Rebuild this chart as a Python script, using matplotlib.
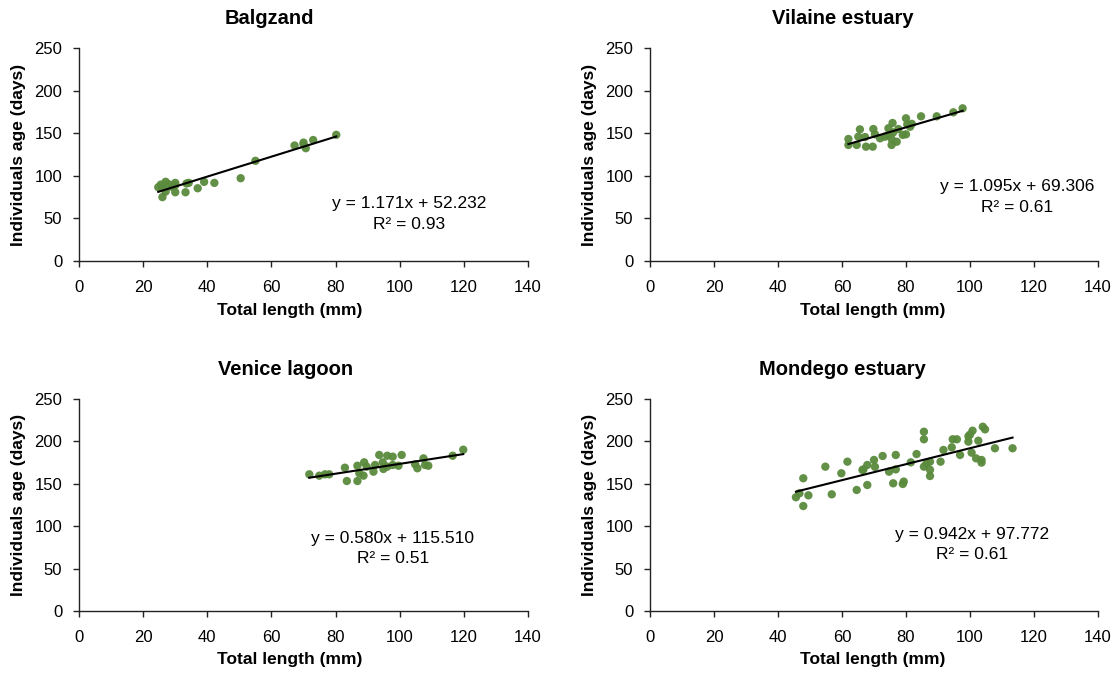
import numpy as np
import matplotlib.pyplot as plt

plt.rcParams['font.family'] = ['Liberation Sans', 'DejaVu Sans']

# Balgzand: total length (mm) vs age (days)
balg_len = [80.2, 73.0, 70.0, 70.7, 67.2, 70.0, 55.0, 50.4, 42.2, 39.0, 37.0, 33.2,
            33.5, 34.2, 30.0, 30.0, 30.0, 27.0, 26.0, 26.0, 24.7, 25.5, 29.0, 27.0, 28.0]
balg_age = [148.1, 142.0, 139.0, 132.4, 135.6, 137.0, 117.6, 97.2, 91.7, 92.9, 85.4, 80.7,
            91.0, 91.7, 80.7, 91.7, 89.0, 93.0, 87.0, 75.0, 86.6, 89.7, 87.0, 81.5, 90.0]

# Vilaine estuary
vil_len = [97.7, 94.8, 89.6, 84.7, 80.0, 80.4, 80.0, 77.6, 75.8, 76.0, 75.5, 75.5, 74.5,
           73.4, 71.9, 69.8, 70.3, 69.6, 67.5, 67.2, 65.6, 65.1, 64.6, 62.0, 62.0, 79.0,
           81.3, 81.8, 77.1, 74.5]
vil_age = [179.2, 174.5, 169.8, 169.8, 167.5, 160.4, 148.7, 154.9, 162.0, 151.0, 143.2,
           136.2, 155.8, 145.9, 144.0, 154.9, 148.7, 134.2, 134.2, 145.5, 154.5, 145.9,
           136.2, 143.2, 136.2, 148.0, 157.6, 161.0, 140.0, 148.0]

# Venice lagoon
ven_len = [71.8, 74.9, 76.7, 78.0, 82.9, 83.5, 86.8, 86.8, 87.4, 88.9, 88.7, 89.7, 91.8,
           92.3, 93.6, 94.7, 94.9, 96.1, 96.1, 97.8, 97.8, 99.6, 100.6, 104.8, 105.5,
           107.4, 107.9, 108.9, 116.5, 119.8]
ven_age = [161.2, 159.6, 161.2, 161.2, 169.0, 153.3, 153.3, 171.3, 162.4, 175.3, 159.6,
           170.2, 164.3, 172.2, 184.0, 175.3, 167.5, 183.1, 170.2, 182.0, 172.2, 171.3,
           184.0, 173.0, 168.3, 180.0, 172.2, 171.3, 183.1, 190.2]

# Mondego estuary
mon_len = [45.6, 46.7, 47.9, 47.9, 49.5, 54.8, 56.8, 59.8, 61.7, 64.6, 66.4, 66.7, 67.9,
           67.9, 70.0, 70.3, 72.7, 74.7, 76.0, 76.8, 76.8, 79.0, 79.3, 81.5, 83.3, 85.6,
           85.6, 85.6, 86.4, 87.5, 87.5, 87.5, 90.8, 91.7, 94.3, 94.6, 95.9, 96.9, 99.5,
           99.5, 100.0, 100.8, 100.5, 101.9, 102.6, 103.6, 104.0, 104.7, 107.8, 113.3, 103.6]
mon_age = [134.1, 138.8, 156.5, 123.8, 136.4, 170.2, 137.6, 162.4, 176.1, 142.7, 166.3,
           167.0, 172.2, 148.6, 178.1, 170.0, 182.8, 164.3, 150.6, 184.0, 167.0, 149.8,
           152.6, 175.3, 185.1, 211.4, 202.5, 170.2, 174.0, 176.1, 166.5, 159.2, 176.1,
           189.9, 193.0, 202.5, 202.5, 184.0, 199.7, 206.0, 208.0, 212.6, 186.7, 180.0,
           200.8, 178.1, 217.3, 214.2, 191.9, 191.9, 175.0]

sites = ["Balgzand", "Vilaine estuary", "Venice lagoon", "Mondego estuary"]
slopes = [1.171, 1.095, 0.580, 0.942]
intercepts = [52.232, 69.306, 115.510, 97.772]
r2 = [0.93, 0.61, 0.51, 0.61]
lengths = [balg_len, vil_len, ven_len, mon_len]
ages = [balg_age, vil_age, ven_age, mon_age]

# axes boxes in figure fraction, plus title / equation anchors
boxes = [[0.0707, 0.6133, 0.4016, 0.3156], [0.5814, 0.6133, 0.4007, 0.3156],
         [0.0707, 0.0948, 0.4016, 0.3141], [0.5814, 0.0948, 0.4007, 0.3141]]
title_x = [0.425, 0.43, 0.459, 0.43]
eq_pos = [(0.735, 0.268), (0.819, 0.35), (0.699, 0.344), (0.719, 0.363)]
xlab_x = [0.47, 0.496, 0.47, 0.496]

fig = plt.figure(figsize=(11.18, 6.75), dpi=100)
green = '#5a8a3c'

for i in range(4):
    ax = fig.add_axes(boxes[i])
    x = np.array(lengths[i])
    y = np.array(ages[i])
    ax.scatter(x, y, s=36, color=green, edgecolors='none', alpha=0.95, zorder=2)
    xs = np.array([x.min(), x.max()])
    ax.plot(xs, slopes[i] * xs + intercepts[i], color='black', lw=1.5, zorder=3)

    ax.set_xlim(0, 140)
    ax.set_ylim(0, 250)
    ax.set_xticks(range(0, 141, 20))
    ax.set_yticks(range(0, 251, 50))
    for s in ['top', 'right']:
        ax.spines[s].set_visible(False)
    for s in ['left', 'bottom']:
        ax.spines[s].set_color('#222222')
        ax.spines[s].set_linewidth(1.0)
    ax.tick_params(direction='out', length=4, width=1.0, color='#222222',
                   labelsize=12)
    ax.tick_params(axis='x', pad=10)
    ax.tick_params(axis='y', pad=8)

    ax.text(title_x[i], 1.14, sites[i], transform=ax.transAxes, ha='center',
            va='center', fontsize=14.5, fontweight='bold')
    ax.text(xlab_x[i], -0.23, "Total length (mm)", transform=ax.transAxes,
            ha='center', va='center', fontsize=12.5, fontweight='bold')
    ax.text(-0.134, 0.5, "Individuals age (days)", transform=ax.transAxes,
            ha='center', va='center', rotation=90, fontsize=12.5, fontweight='bold')
    ex, ey = eq_pos[i]
    ax.text(ex, ey, f"y = {slopes[i]:.3f}x + {intercepts[i]:.3f}",
            transform=ax.transAxes, ha='center', va='center', fontsize=12.5)
    ax.text(ex, ey - 0.097, f"R² = {r2[i]:.2f}", transform=ax.transAxes,
            ha='center', va='center', fontsize=12.5)

fig.savefig("out.png", dpi=100)
